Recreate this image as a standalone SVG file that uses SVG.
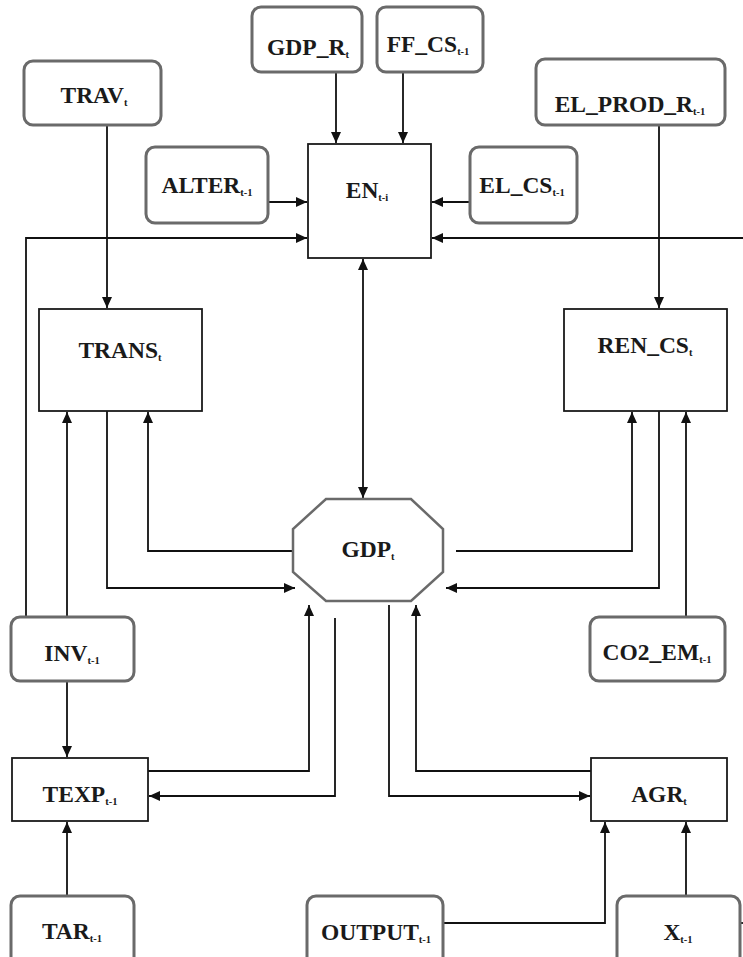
<svg xmlns="http://www.w3.org/2000/svg" width="743" height="957" viewBox="0 0 743 957">
<style>
.rb{fill:#fff;stroke:#6a6a6a;stroke-width:3}
.bx{fill:#fff;stroke:#1a1a1a;stroke-width:1.8}
.oc{fill:#fff;stroke:#6a6a6a;stroke-width:2.5}
.t{font-family:"Liberation Serif","Times New Roman",serif;font-weight:bold;font-size:23.5px;fill:#1a1a1a;text-anchor:middle}
.s{font-size:10.5px}
.c{fill:none;stroke:#111;stroke-width:1.8}
</style>
<defs>
<marker id="ah" markerUnits="userSpaceOnUse" markerWidth="12" markerHeight="11" refX="11" refY="5.5" orient="auto-start-reverse">
<path d="M0,0.5 L11,5.5 L0,10.5 z" fill="#111"/>
</marker>
</defs>
<rect width="743" height="957" fill="#fff"/>
<g id="connectors">
<path class="c" d="M107,125 V308" marker-end="url(#ah)"/>
<path class="c" d="M336,72 V143" marker-end="url(#ah)"/>
<path class="c" d="M403,72 V143" marker-end="url(#ah)"/>
<path class="c" d="M268,202 H307" marker-end="url(#ah)"/>
<path class="c" d="M470,202 H432" marker-end="url(#ah)"/>
<path class="c" d="M26,617 V238 H307" marker-end="url(#ah)"/>
<path class="c" d="M743,238 H432" marker-end="url(#ah)"/>
<path class="c" d="M659,125 V308" marker-end="url(#ah)"/>
<path class="c" d="M363,259 V498" marker-start="url(#ah)" marker-end="url(#ah)"/>
<path class="c" d="M67,617 V412" marker-end="url(#ah)"/>
<path class="c" d="M295,551 H148 V412" marker-end="url(#ah)"/>
<path class="c" d="M107,411 V588 H295" marker-end="url(#ah)"/>
<path class="c" d="M456,551 H632 V412" marker-end="url(#ah)"/>
<path class="c" d="M659,411 V588 H446" marker-end="url(#ah)"/>
<path class="c" d="M686,617 V412" marker-end="url(#ah)"/>
<path class="c" d="M67,681 V757" marker-end="url(#ah)"/>
<path class="c" d="M148,771 H309 V605" marker-end="url(#ah)"/>
<path class="c" d="M335,618 V796 H149" marker-end="url(#ah)"/>
<path class="c" d="M389,605 V796 H590" marker-end="url(#ah)"/>
<path class="c" d="M591,771 H416 V605" marker-end="url(#ah)"/>
<path class="c" d="M67,896 V822" marker-end="url(#ah)"/>
<path class="c" d="M443,923 H605 V822" marker-end="url(#ah)"/>
<path class="c" d="M686,896 V822" marker-end="url(#ah)"/>
<path class="c" d="M740,923 H743"/>
</g>
<g id="GDP_R">
<rect class="rb" x="252" y="7" width="110" height="65" rx="9"/>
<text class="t" x="308" y="55">GDP_R<tspan class="s" dy="3">t</tspan></text>
</g>
<g id="FF_CS">
<rect class="rb" x="377" y="7" width="106" height="65" rx="9"/>
<text class="t" x="428" y="52">FF_CS<tspan class="s" dy="3">t-1</tspan></text>
</g>
<g id="TRAV">
<rect class="rb" x="24" y="61" width="137" height="64" rx="9"/>
<text class="t" x="94" y="103">TRAV<tspan class="s" dy="3">t</tspan></text>
</g>
<g id="EL_PROD_R">
<rect class="rb" x="536" y="59" width="189" height="66" rx="9"/>
<text class="t" x="630" y="112">EL_PROD_R<tspan class="s" dy="3">t-1</tspan></text>
</g>
<g id="ALTER">
<rect class="rb" x="146" y="147" width="122" height="76" rx="9"/>
<text class="t" x="207" y="193">ALTER<tspan class="s" dy="3">t-1</tspan></text>
</g>
<g id="EN">
<rect class="bx" x="308" y="144" width="123" height="114"/>
<text class="t" x="367" y="198">EN<tspan class="s" dy="3">t-i</tspan></text>
</g>
<g id="EL_CS">
<rect class="rb" x="470" y="147" width="107" height="76" rx="9"/>
<text class="t" x="522" y="193">EL_CS<tspan class="s" dy="3">t-1</tspan></text>
</g>
<g id="TRANS">
<rect class="bx" x="39" y="309" width="163" height="102"/>
<text class="t" x="120" y="358">TRANS<tspan class="s" dy="3">t</tspan></text>
</g>
<g id="REN_CS">
<rect class="bx" x="564" y="309" width="163" height="102"/>
<text class="t" x="645" y="353">REN_CS<tspan class="s" dy="3">t</tspan></text>
</g>
<g id="GDP">
<polygon class="oc" points="326,499 411,499 443,529 443,572 411,601 326,601 293,572 293,529"/>
<text class="t" x="368" y="557">GDP<tspan class="s" dy="3">t</tspan></text>
</g>
<g id="INV">
<rect class="rb" x="11" y="617" width="123" height="64" rx="9"/>
<text class="t" x="72" y="661">INV<tspan class="s" dy="3">t-1</tspan></text>
</g>
<g id="CO2_EM">
<rect class="rb" x="590" y="617" width="135" height="64" rx="9"/>
<text class="t" x="657" y="660">CO2_EM<tspan class="s" dy="3">t-1</tspan></text>
</g>
<g id="TEXP">
<rect class="bx" x="12" y="758" width="136" height="63"/>
<text class="t" x="80" y="802">TEXP<tspan class="s" dy="3">t-1</tspan></text>
</g>
<g id="AGR">
<rect class="bx" x="591" y="758" width="136" height="63"/>
<text class="t" x="659" y="802">AGR<tspan class="s" dy="3">t</tspan></text>
</g>
<g id="TAR">
<rect class="rb" x="11" y="896" width="123" height="75" rx="9"/>
<text class="t" x="72" y="939">TAR<tspan class="s" dy="3">t-1</tspan></text>
</g>
<g id="OUTPUT">
<rect class="rb" x="307" y="896" width="136" height="75" rx="9"/>
<text class="t" x="376" y="940">OUTPUT<tspan class="s" dy="3">t-1</tspan></text>
</g>
<g id="X">
<rect class="rb" x="617" y="896" width="123" height="75" rx="9"/>
<text class="t" x="678" y="940">X<tspan class="s" dy="3">t-1</tspan></text>
</g>
</svg>
